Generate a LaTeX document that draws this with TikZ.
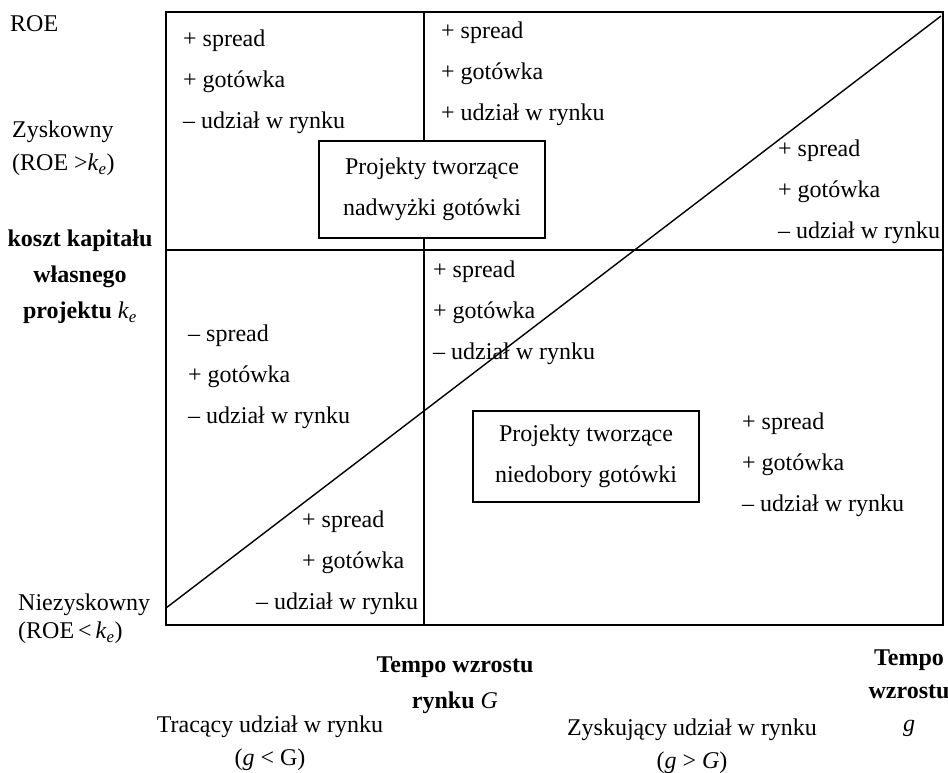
\documentclass[tikz,border=0pt]{standalone}
\usepackage{fontspec}
\setmainfont{Liberation Serif}
\usepackage{tikz}
\usetikzlibrary{positioning}

\newcommand{\kE}{\textit{k}\textsubscript{\textit{e}}}

\begin{document}
\begin{tikzpicture}[x=1pt,y=-1pt,
    every node/.style={inner sep=0pt,font=\fontsize{24}{41}\selectfont},
    pm/.style={anchor=west,align=left},
    lbl/.style={align=center,font=\fontsize{24}{33}\selectfont},
    projbox/.style={draw,fill=white,line width=2.4pt,align=center,
      minimum width=226pt,font=\fontsize{24}{41}\selectfont}]
      \useasboundingbox (0,0) rectangle (948,772);
      % quadrants
      \draw[line width=2.4pt] (166,12) rectangle (943,625);
      \draw[line width=2.4pt] (166,250) -- (943,250);
      \draw[line width=2.4pt] (424,12) -- (424,625);
      % lists in the quadrants
      \node[pm] (tl) at (183,82) {+ spread\\+ gotówka\\– udział w rynku};
      \node[pm] (tm) at (441,74) {+ spread\\+ gotówka\\+ udział w rynku};
      \node[pm] (tr) at (778,192) {+ spread\\+ gotówka\\– udział w rynku};
      \node[pm] (mc) at (433,313) {+ spread\\+ gotówka\\– udział w rynku};
      \node[pm] (ml) at (188,377) {– spread\\+ gotówka\\– udział w rynku};
      \node[pm] (br) at (742,465) {+ spread\\+ gotówka\\– udział w rynku};
      \node[pm] (bl) at (256,563) {\hspace*{46pt}+ spread\\\hspace*{46pt}+ gotówka\\– udział w rynku};
      % the two boxes
      \node[projbox,minimum height=97pt] (surplus) at (432,189.5) {Projekty tworzące\\nadwyżki gotówki};
      \node[projbox,minimum height=91pt] (deficit) at (586,456.5) {Projekty tworzące\\niedobory gotówki};
      % diagonal
      \coordinate (dlow) at (166,608);
      \coordinate (dhigh) at (941,16);
      \draw[line width=1.4pt] (dlow) -- (dhigh);
      % vertical axis labels
      \node[anchor=west] (roe) at (10,24) {ROE};
      \node[pm,font=\fontsize{24}{33}\selectfont] (zysk) at (12,148) {Zyskowny\\(ROE >\kE)};
      \node[lbl,font=\bfseries\fontsize{24}{36}\selectfont] (koszt) at (80,277) {koszt kapitału\\własnego\\projektu \textmd{\kE}};
      \node[pm,font=\fontsize{24}{28}\selectfont] (niezysk) at (18,619) {Niezyskowny\\(ROE\,<\,\kE)};
      % horizontal axis labels
      \node[lbl,font=\bfseries\fontsize{24}{36}\selectfont] (tempoG) at (455,685) {Tempo wzrostu\\rynku \textmd{\textit{G}}};
      \node[lbl] (traci) at (270,743) {Tracący udział w rynku\\(\textit{g} < G)};
      \node[lbl] (zyskuje) at (692,746) {Zyskujący udział w rynku\\(\textit{g} > \textit{G})};
      \node[lbl,font=\bfseries\fontsize{24}{33}\selectfont] (tempog) at (909,693) {Tempo\\wzrostu\\\textmd{\textit{g}}};
    \end{tikzpicture}
\end{document}
